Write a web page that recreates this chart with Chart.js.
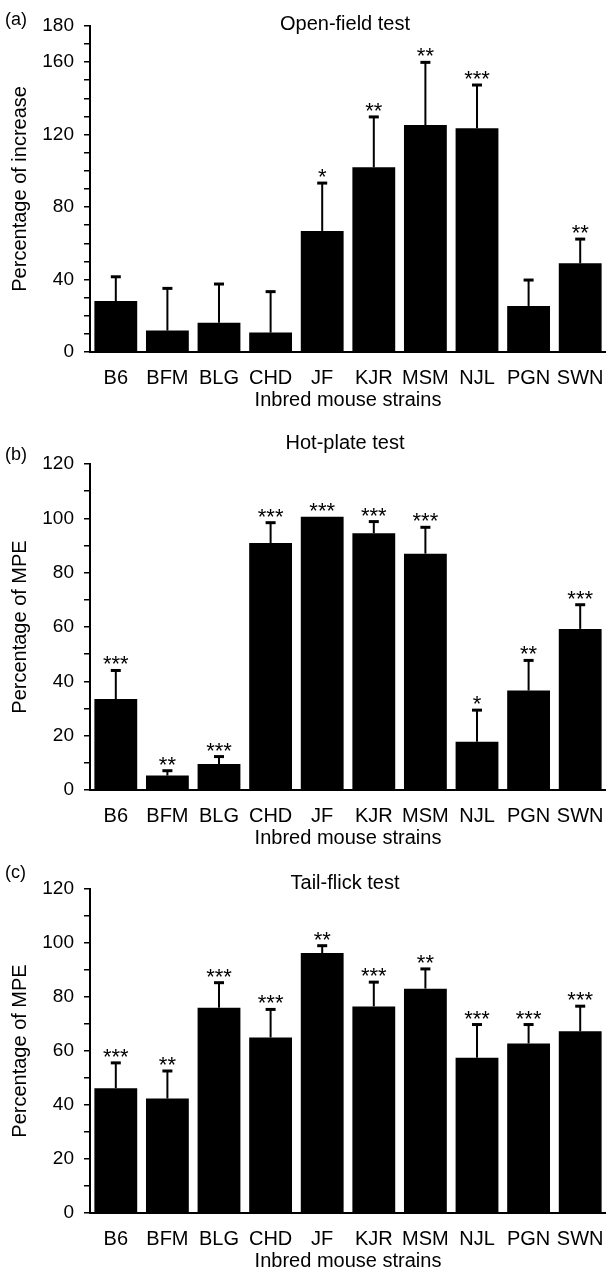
<!DOCTYPE html>
<html>
<head>
<meta charset="utf-8">
<script src="https://cdn.jsdelivr.net/npm/chart.js@4.4.1/dist/chart.umd.min.js"></script>
<style>
  body { margin: 0; background: #fff; }
  #wrap { position: relative; width: 606px; height: 1272px; }
  canvas { position: absolute; left: 0; }
</style>
</head>
<body>
<div id="wrap">
  <canvas id="chart-a" width="606" height="420" style="top:0px"></canvas>
  <canvas id="chart-b" width="606" height="435" style="top:420px"></canvas>
  <canvas id="chart-c" width="606" height="417" style="top:855px"></canvas>
</div>
<script>
const strains = ['B6', 'BFM', 'BLG', 'CHD', 'JF', 'KJR', 'MSM', 'NJL', 'PGN', 'SWN'];

// (a) open-field test, % increase
const openFieldMean = [28.1, 11.8, 16.2, 10.7, 66.8, 101.9, 125.2, 123.4, 25.4, 48.9];
const openFieldSem = [13.4, 23.3, 21.3, 22.6, 26.4, 27.8, 34.6, 23.9, 14.3, 13.4];
const openFieldStars = ['', '', '', '', '*', '**', '**', '***', '', '**'];

// (b) hot-plate test, % MPE
const hotPlateMean = [33.5, 5.3, 9.6, 90.9, 100.6, 94.5, 87.0, 17.8, 36.6, 59.3];
const hotPlateSem = [10.5, 1.8, 2.7, 7.5, 0, 4.3, 9.7, 11.6, 11.1, 8.9];
const hotPlateStars = ['***', '**', '***', '***', '***', '***', '***', '*', '**', '***'];

// (c) tail-flick test, % MPE
const tailFlickMean = [46.2, 42.4, 76.0, 65.0, 96.3, 76.5, 83.1, 57.5, 62.8, 67.3];
const tailFlickSem = [9.4, 10.2, 9.3, 10.4, 2.7, 9.0, 7.3, 12.3, 7.0, 9.3];
const tailFlickStars = ['***', '**', '***', '***', '**', '***', '**', '***', '***', '***'];

const FONT = '"Liberation Sans", Arial, Helvetica, sans-serif';

const errorBars = {
  id: 'errorBars',
  afterDatasetsDraw(chart) {
    const ctx = chart.ctx;
    const y = chart.scales.y;
    const ds = chart.data.datasets[0];
    const meta = chart.getDatasetMeta(0);
    ctx.save();
    ctx.strokeStyle = '#000';
    ctx.fillStyle = '#000';
    meta.data.forEach((bar, i) => {
      const top = y.getPixelForValue(ds.data[i] + ds.errors[i]);
      if (ds.errors[i] > 0) {
        ctx.lineWidth = 2;
        ctx.beginPath();
        ctx.moveTo(bar.x, bar.y);
        ctx.lineTo(bar.x, top);
        ctx.stroke();
        ctx.lineWidth = 3;
        ctx.beginPath();
        ctx.moveTo(bar.x - 5, top);
        ctx.lineTo(bar.x + 5, top);
        ctx.stroke();
      }
      if (ds.stars[i]) {
        ctx.font = '22px ' + FONT;
        ctx.textAlign = 'center';
        ctx.textBaseline = 'alphabetic';
        ctx.fillText(ds.stars[i], bar.x, top + 1);
      }
    });
    ctx.restore();
  }
};

const panelText = {
  id: 'panelText',
  afterDraw(chart, args, opts) {
    const ctx = chart.ctx;
    ctx.save();
    ctx.fillStyle = '#000';
    ctx.textBaseline = 'middle';
    ctx.textAlign = 'left';
    ctx.font = '18px ' + FONT;
    ctx.fillText(opts.tag, 5, opts.tagY);
    ctx.textAlign = 'center';
    ctx.font = '20px ' + FONT;
    ctx.fillText(opts.title, 345, opts.titleY);
    ctx.restore();
  }
};

function makePanel(id, p) {
  const canvas = document.getElementById(id);
  return new Chart(canvas.getContext('2d'), {
    type: 'bar',
    data: {
      labels: strains,
      datasets: [{
        data: p.mean,
        errors: p.sem,
        stars: p.stars,
        backgroundColor: '#000',
        borderWidth: 0,
        barPercentage: 0.83,
        categoryPercentage: 1.0
      }]
    },
    options: {
      responsive: false,
      animation: false,
      layout: { padding: { top: p.top, right: 0, bottom: canvas.height - p.baseline - 60, left: 0 } },
      plugins: {
        legend: { display: false },
        tooltip: { enabled: false },
        panelText: { tag: p.tag, tagY: p.tagY, title: p.title, titleY: p.titleY }
      },
      scales: {
        x: {
          grid: { display: false },
          border: { display: true, color: '#000', width: 2 },
          ticks: { color: '#000', font: { family: FONT, size: 20 }, padding: 6, autoSkip: false, maxRotation: 0 },
          title: { display: true, text: 'Inbred mouse strains', color: '#000', font: { family: FONT, size: 20 }, padding: { top: 0, bottom: 0 } },
          afterFit: s => { s.height = 60; s.paddingLeft = 0; s.paddingRight = 0; }
        },
        y: {
          min: 0,
          max: p.max,
          ticks: {
            stepSize: 10,
            autoSkip: false,
            color: '#000',
            font: { family: FONT, size: 19 },
            padding: 10,
            callback: v => (v % p.labelStep === 0 || v === p.max) ? String(v) : ''
          },
          grid: { drawOnChartArea: false, drawTicks: true, tickLength: 6, color: '#000', lineWidth: 1.5 },
          border: { color: '#000', width: 2 },
          title: { display: true, text: p.yTitle, color: '#000', font: { family: FONT, size: 20 }, padding: { top: 8, bottom: 0 } },
          afterFit: s => { s.width = 90; s.paddingTop = 0; s.paddingBottom = 0; }
        }
      }
    },
    plugins: [errorBars, panelText]
  });
}

makePanel('chart-a', {
  mean: openFieldMean, sem: openFieldSem, stars: openFieldStars,
  max: 180, labelStep: 40, top: 25.75, baseline: 352,
  tag: '(a)', tagY: 20, title: 'Open-field test', titleY: 24,
  yTitle: 'Percentage of increase'
});

makePanel('chart-b', {
  mean: hotPlateMean, sem: hotPlateSem, stars: hotPlateStars,
  max: 120, labelStep: 20, top: 44, baseline: 370,
  tag: '(b)', tagY: 35, title: 'Hot-plate test', titleY: 23,
  yTitle: 'Percentage of MPE'
});

makePanel('chart-c', {
  mean: tailFlickMean, sem: tailFlickSem, stars: tailFlickStars,
  max: 120, labelStep: 20, top: 34, baseline: 358,
  tag: '(c)', tagY: 18, title: 'Tail-flick test', titleY: 28,
  yTitle: 'Percentage of MPE'
});
</script>
</body>
</html>
